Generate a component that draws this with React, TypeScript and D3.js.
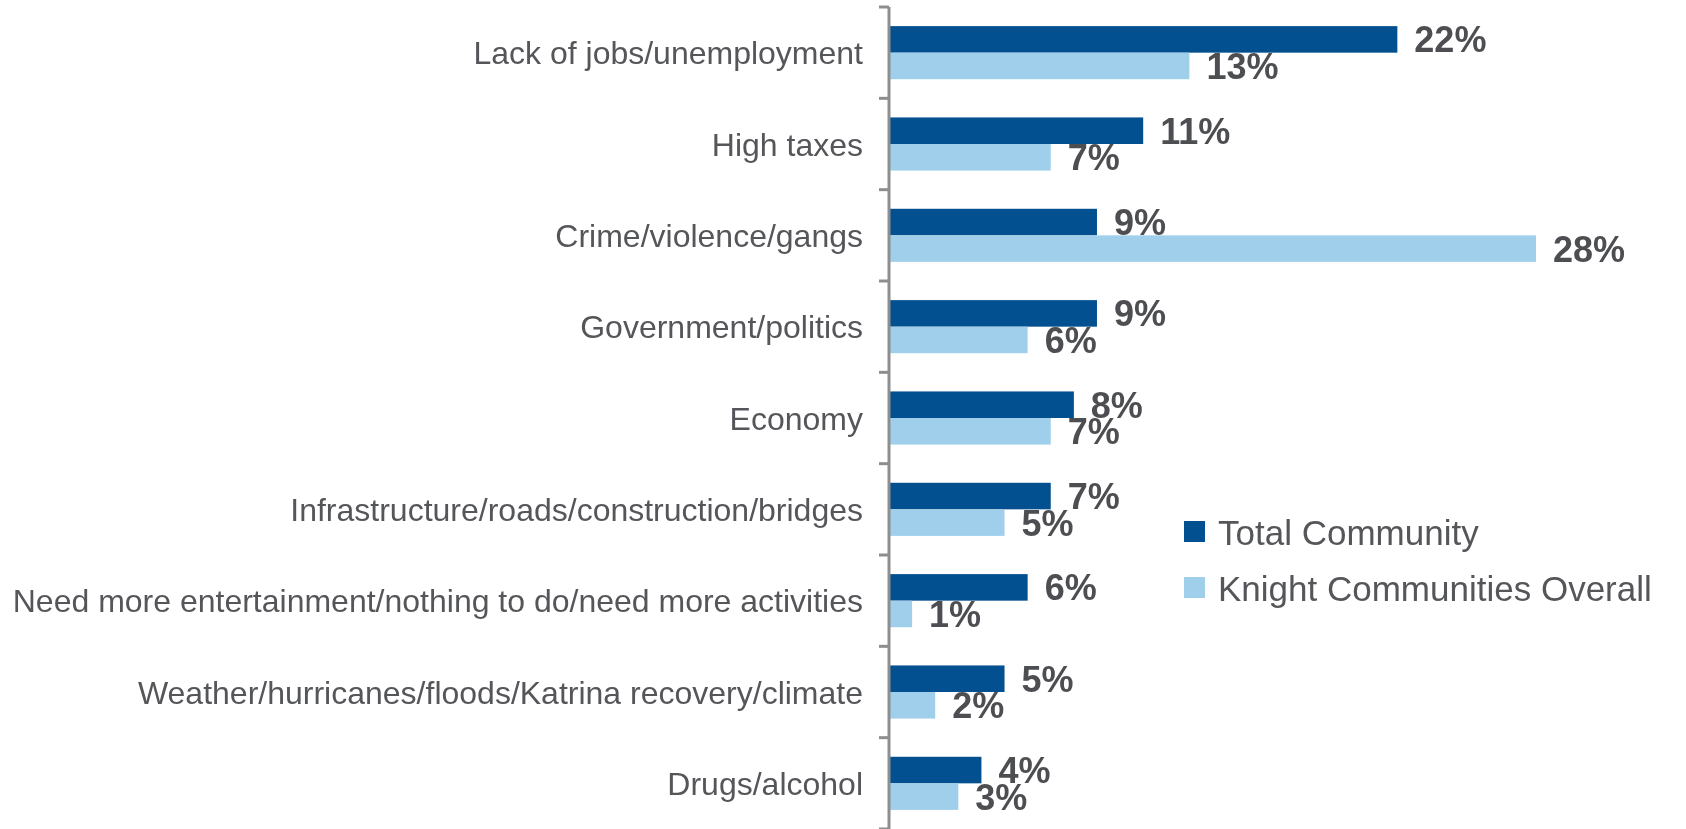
import React, { useEffect, useRef } from "react";
import * as d3 from "d3";

const categories = [
  "Lack of jobs/unemployment",
  "High taxes",
  "Crime/violence/gangs",
  "Government/politics",
  "Economy",
  "Infrastructure/roads/construction/bridges",
  "Need more entertainment/nothing to do/need more activities",
  "Weather/hurricanes/floods/Katrina recovery/climate",
  "Drugs/alcohol",
];
const seriesNames = ["Total Community", "Knight Communities Overall"];
const totalCommunity = [22, 11, 9, 9, 8, 7, 6, 5, 4];
const knightOverall = [13, 7, 28, 6, 7, 5, 1, 2, 3];

const width = 1686;
const height = 829;

const App: React.FC = () => {
  const svgRef = useRef<SVGSVGElement>(null);

  useEffect(() => {
    const svg = d3.select(svgRef.current).attr("width", width).attr("height", height);
    svg.selectAll("*").remove();

    const axisX = 889;
    const font = "'Liberation Sans', Arial, sans-serif";
    const textColor = "#55565a";
    const color = d3
      .scaleOrdinal<string>()
      .domain(seriesNames)
      .range(["#02508f", "#a0cfec"]);

    const x = d3.scaleLinear().domain([0, 28]).range([axisX, 1536]);
    const y0 = d3.scaleBand<string>().domain(categories).range([7, 829]).padding(0);
    const y1 = d3
      .scaleBand<string>()
      .domain(seriesNames)
      .range([0, y0.bandwidth()])
      .paddingInner(0)
      .paddingOuter(0.72);

    const rows = categories.map((c, i) => ({
      category: c,
      values: [
        { series: seriesNames[0], value: totalCommunity[i] },
        { series: seriesNames[1], value: knightOverall[i] },
      ],
    }));

    // Bars
    const groups = svg
      .append("g")
      .selectAll("g")
      .data(rows)
      .join("g")
      .attr("transform", (d) => `translate(0, ${y0(d.category)})`);

    groups
      .selectAll("rect")
      .data((d) => d.values)
      .join("rect")
      .attr("x", x(0))
      .attr("y", (d) => y1(d.series)!)
      .attr("width", (d) => x(d.value) - x(0))
      .attr("height", y1.bandwidth())
      .attr("fill", (d) => color(d.series));

    // Value labels
    groups
      .selectAll("text")
      .data((d) => d.values)
      .join("text")
      .attr("x", (d) => x(d.value) + 17)
      .attr("y", (d) => y1(d.series)! + y1.bandwidth() / 2)
      .attr("dy", "0.36em")
      .style("font-family", font)
      .style("font-weight", "bold")
      .style("font-size", "36px")
      .attr("fill", "#4d4e52")
      .text((d) => `${d.value}%`);

    // Category axis
    const axis = svg
      .append("g")
      .attr("transform", `translate(${axisX}, 0)`);
    axis
      .append("line")
      .attr("x1", 0)
      .attr("x2", 0)
      .attr("y1", 7)
      .attr("y2", height)
      .attr("stroke", "#8e8e8e")
      .attr("stroke-width", 3);
    const boundaries = categories.map((c) => y0(c)!).concat([y0.range()[1]]);
    axis
      .selectAll("line.tick")
      .data(boundaries)
      .join("line")
      .attr("class", "tick")
      .attr("x1", -10)
      .attr("x2", 0)
      .attr("y1", (d) => d)
      .attr("y2", (d) => d)
      .attr("stroke", "#8e8e8e")
      .attr("stroke-width", 3);

    svg
      .append("g")
      .selectAll("text")
      .data(categories)
      .join("text")
      .attr("x", axisX - 26)
      .attr("y", (d) => y0(d)! + y0.bandwidth() / 2)
      .attr("dy", "0.36em")
      .attr("text-anchor", "end")
      .style("font-family", font)
      .style("font-size", "32px")
      .attr("fill", textColor)
      .text((d) => d);

    // Legend
    const legend = svg.append("g").attr("transform", "translate(1184, 521)");
    seriesNames.forEach((s, i) => {
      legend
        .append("rect")
        .attr("x", 0)
        .attr("y", i * 56)
        .attr("width", 21)
        .attr("height", 21)
        .attr("fill", color(s));
      legend
        .append("text")
        .attr("x", 34)
        .attr("y", i * 56 + 24)
        .style("font-family", font)
        .style("font-size", "35px")
        .attr("fill", textColor)
        .text(s);
    });
  }, []);

  return (
    <div style={{ position: "fixed", left: 0, top: 0 }}>
      <svg ref={svgRef} style={{ display: "block" }} />
    </div>
  );
};

export default App;
